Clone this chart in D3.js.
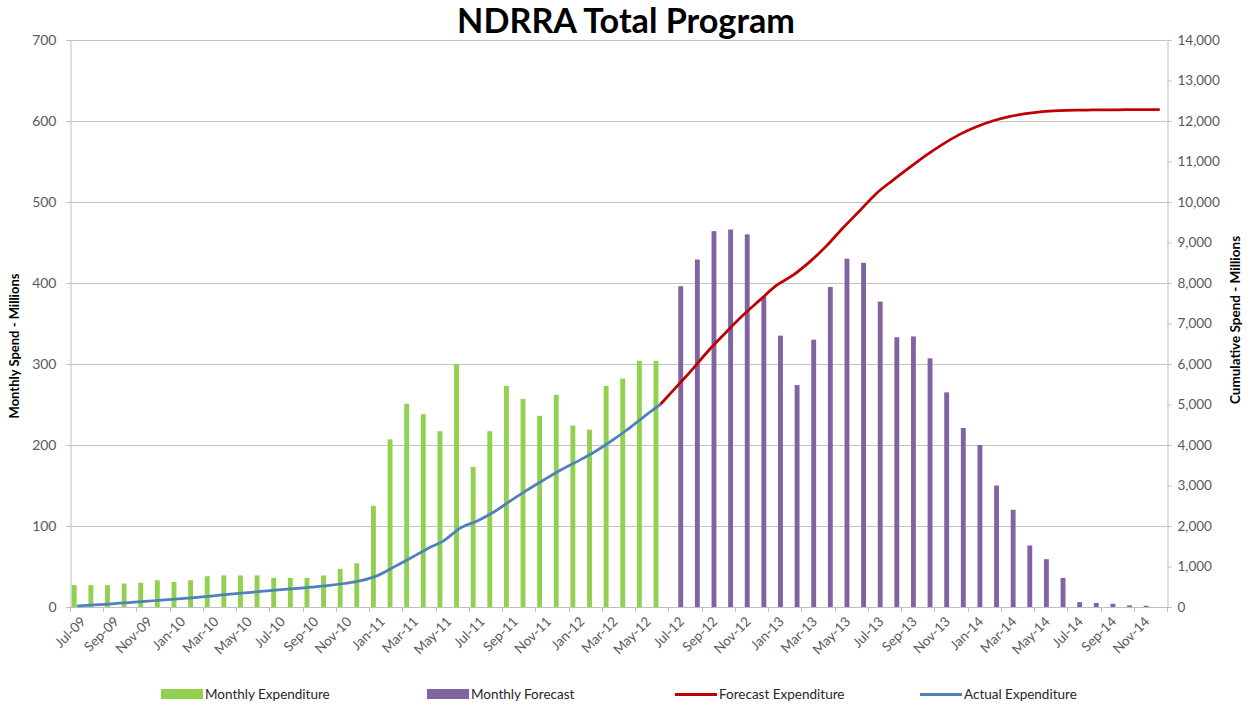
<!DOCTYPE html>
<html><head><meta charset="utf-8">
<script src="https://cdn.jsdelivr.net/npm/d3@7/dist/d3.min.js"></script>
<style>
body{margin:0;background:#fff}
svg{display:block}
text{font-family:Lato,"Liberation Sans",sans-serif}
</style>
</head><body>
<svg id="chart" width="1251" height="706"></svg>
<script>
// ---------------- DATA ----------------
const title = "NDRRA Total Program";
const months = [
 "Jul-09","Aug-09","Sep-09","Oct-09","Nov-09","Dec-09",
 "Jan-10","Feb-10","Mar-10","Apr-10","May-10","Jun-10","Jul-10","Aug-10","Sep-10","Oct-10","Nov-10","Dec-10",
 "Jan-11","Feb-11","Mar-11","Apr-11","May-11","Jun-11","Jul-11","Aug-11","Sep-11","Oct-11","Nov-11","Dec-11",
 "Jan-12","Feb-12","Mar-12","Apr-12","May-12","Jun-12","Jul-12","Aug-12","Sep-12","Oct-12","Nov-12","Dec-12",
 "Jan-13","Feb-13","Mar-13","Apr-13","May-13","Jun-13","Jul-13","Aug-13","Sep-13","Oct-13","Nov-13","Dec-13",
 "Jan-14","Feb-14","Mar-14","Apr-14","May-14","Jun-14","Jul-14","Aug-14","Sep-14","Oct-14","Nov-14","Dec-14"
];
// Monthly Expenditure: Jul-09 .. Jun-12
const monthlyExpenditure = [27,27,27,29,30,33,31,33,38,39,39,39,36,36,36,39,47,54,
 125,207,251,238,217,300,173,217,273,257,236,262,224,219,273,282,304,304];
// Monthly Forecast: Jul-12 .. Dec-14
const monthlyForecast = [396,429,464,466,460,383,335,274,330,395,430,425,377,333,334,307,265,221,
 200,150,120,76,59,36,6,5,4,2,1.5,0];
// Actual Expenditure (cumulative): Jul-09 .. Jun-12
const actualCumulative = [27,50,80,108,138,170,200,232,270,310,348,385,420,455,490,528,580,650,
 775,990,1210,1440,1640,1955,2125,2345,2620,2885,3135,3375,3590,3815,4080,4370,4690,4995];
// Forecast Expenditure (cumulative): Jun-12 .. Dec-14
const forecastCumulative = [4995,5441,5893,6370,6797,7207,7577,7940,8193,8522,8910,9358,9778,10206,
 10535,10848,11152,11424,11663,11852,12000,12107,12181,12230,12255,12268,12272,12275,12278,12280,12281];
const leftTicks = [0,100,200,300,400,500,600,700];
const rightTicks = [0,1000,2000,3000,4000,5000,6000,7000,8000,9000,10000,11000,12000,13000,14000];
const seriesNames = ["Monthly Expenditure","Monthly Forecast","Forecast Expenditure","Actual Expenditure"];
const leftTitle = "Monthly Spend - Millions";
const rightTitle = "Cumulative Spend - Millions";

// ---------------- LAYOUT / STYLE ----------------
const W = 1251, H = 706;
const plot = {l:70, r:1167, t:40, b:607};
const colors = {exp:"#92d050", fc:"#8064a2", fcum:"#c00000", acum:"#4f81bd"};
const gridColor = "#c4c4c4", axisColor = "#bfbfbf", labelColor = "#595959";

const svg = d3.select("#chart");

const x = d3.scaleBand().domain(months).range([plot.l, plot.r]).paddingInner(0).paddingOuter(0);
const bw = x.bandwidth();
const xSub = d3.scaleBand().domain(["exp","fc"]).range([bw/2-6.5, bw/2+6.5]).paddingInner(0.4).paddingOuter(0);
const yL = d3.scaleLinear().domain([0,700]).range([plot.b, plot.t]);
const yR = d3.scaleLinear().domain([0,14000]).range([plot.b, plot.t]);

// gridlines
svg.append("g").selectAll("line").data(leftTicks.slice(1)).join("line")
  .attr("x1",plot.l).attr("x2",plot.r)
  .attr("y1",d=>Math.round(yL(d))+0.5).attr("y2",d=>Math.round(yL(d))+0.5)
  .attr("stroke",gridColor).attr("stroke-width",1);

// left axis
const gL = svg.append("g").attr("transform",`translate(${plot.l+0.5},0)`)
  .call(d3.axisLeft(yL).tickValues(leftTicks).tickSize(4).tickPadding(10).tickFormat(d3.format("d")));
gL.select(".domain").attr("stroke",axisColor);
gL.selectAll(".tick line").attr("stroke",axisColor);
gL.selectAll(".tick text").attr("fill",labelColor).style("font-size","14px").style("font-family","Lato");

// right axis
const gR = svg.append("g").attr("transform",`translate(${plot.r+0.5},0)`)
  .call(d3.axisRight(yR).tickValues(rightTicks).tickSize(4).tickPadding(6).tickFormat(d3.format(",")));
gR.select(".domain").attr("stroke",axisColor);
gR.selectAll(".tick line").attr("stroke",axisColor);
gR.selectAll(".tick text").attr("fill",labelColor).style("font-size","13.5px").style("font-family","Lato");

// x axis baseline + ticks
const gX = svg.append("g");
gX.append("line").attr("x1",plot.l).attr("x2",plot.r).attr("y1",plot.b+0.5).attr("y2",plot.b+0.5).attr("stroke",axisColor);
const tickIdx = months.map((m,i)=>i).filter(i=>i%2===0);
gX.selectAll("line.t").data(tickIdx.concat([months.length])).join("line").attr("class","t")
  .attr("x1",i=>Math.round(i<months.length?x(months[i]):plot.r)+0.5)
  .attr("x2",i=>Math.round(i<months.length?x(months[i]):plot.r)+0.5)
  .attr("y1",plot.b).attr("y2",plot.b+5).attr("stroke",axisColor);
gX.selectAll("text").data(tickIdx).join("text")
  .attr("transform",i=>`translate(${x(months[i])+bw/2+5},${plot.b+12}) rotate(-45)`)
  .attr("text-anchor","end").attr("dy","0.35em")
  .attr("fill",labelColor).style("font-size","13.5px")
  .text(i=>months[i]);

// bars
const expData = monthlyExpenditure.map((v,i)=>({m:months[i],v}));
const fcData = monthlyForecast.map((v,i)=>({m:months[i+monthlyExpenditure.length],v}));
svg.append("g").selectAll("rect").data(expData).join("rect")
  .attr("x",d=>x(d.m)+xSub("exp")).attr("width",xSub.bandwidth())
  .attr("y",d=>yL(d.v)).attr("height",d=>yL(0)-yL(d.v)).attr("fill",colors.exp);
svg.append("g").selectAll("rect").data(fcData).join("rect")
  .attr("x",d=>x(d.m)+xSub("fc")).attr("width",xSub.bandwidth())
  .attr("y",d=>yL(d.v)).attr("height",d=>yL(0)-yL(d.v)).attr("fill",colors.fc);

// lines
const line = d3.line().x(d=>x(d.m)+bw/2).y(d=>yR(d.v)).curve(d3.curveMonotoneX);
const fcStart = months.length - forecastCumulative.length;
svg.append("path").datum(forecastCumulative.map((v,i)=>({m:months[i+fcStart],v})))
  .attr("d",line).attr("fill","none").attr("stroke",colors.fcum).attr("stroke-width",2.75).attr("stroke-linecap","round");
svg.append("path").datum(actualCumulative.map((v,i)=>({m:months[i],v})))
  .attr("d",line).attr("fill","none").attr("stroke",colors.acum).attr("stroke-width",2.75).attr("stroke-linecap","round");

// title
const t = svg.append("text").attr("x",626).attr("y",33).attr("text-anchor","middle")
  .style("font-weight","bold").style("font-size","31px").attr("fill","#000").text(title);
const tl = t.node().getComputedTextLength();
t.style("font-size",(31*338/tl).toFixed(2)+"px");

// axis titles
svg.append("text").attr("transform","translate(19,346) rotate(-90)").attr("text-anchor","middle")
  .style("font-weight","bold").style("font-size","13px").attr("fill","#000").text(leftTitle);
svg.append("text").attr("transform","translate(1240,320) rotate(-90)").attr("text-anchor","middle")
  .style("font-weight","bold").style("font-size","13.5px").attr("fill","#000").text(rightTitle);

// legend
const legX = [161, 427, 675, 920];
const legKeys = ["exp","fc","fcum","acum"];
const leg = svg.append("g");
seriesNames.forEach((name,i)=>{
  const g = leg.append("g").attr("transform",`translate(${legX[i]},694)`);
  if(i<2){
    g.append("rect").attr("x",0).attr("y",-5).attr("width",42).attr("height",10).attr("fill",colors[legKeys[i]]);
  } else {
    g.append("line").attr("x1",0).attr("x2",42).attr("y1",0.5).attr("y2",0.5)
      .attr("stroke",colors[legKeys[i]]).attr("stroke-width",3);
  }
  g.append("text").attr("x",44).attr("y",0).attr("dy","0.35em").style("font-size","13.5px")
    .attr("fill","#262626").text(name);
});
</script>
</body></html>
